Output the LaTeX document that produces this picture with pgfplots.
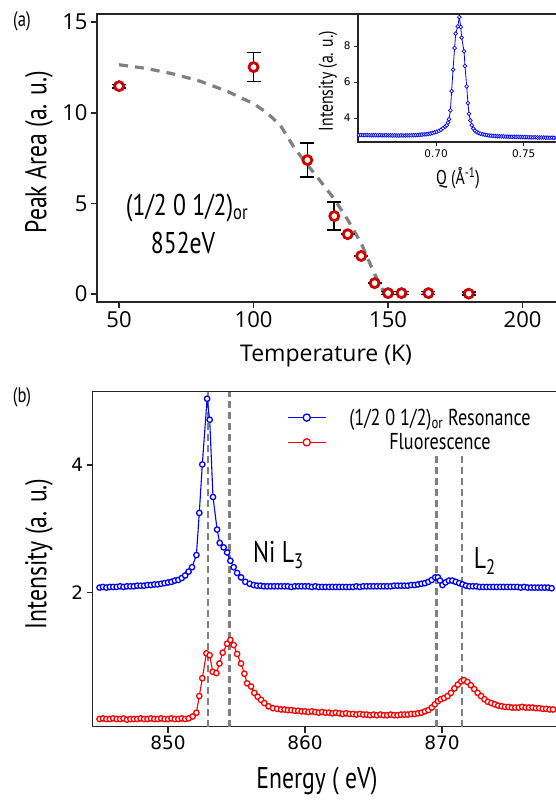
\documentclass[border=0pt]{standalone}
\usepackage{fontspec}
\setmainfont{PT Sans}
\newfontfamily\cf{PT Sans}[FakeStretch=0.79]
\newfontfamily\dv{DejaVu Sans}
\newfontfamily\os{Open Sans}
\usepackage{pgfplots}
\pgfplotsset{compat=1.18}
\definecolor{darkred}{HTML}{CC0000}
\definecolor{fitgray}{HTML}{808080}

\pgfplotsset{
  panel/.style={
    scale only axis,
    axis line style={line width=1.5pt, black!85},
    tick align=outside, tick pos=left,
    major tick length=6pt,
    tick style={line width=1.5pt, black!85},
    /pgf/number format/assume math mode=true,
    clip=false,
  },
}

\begin{document}
\begin{tikzpicture}[x=1pt,y=1pt]
\useasboundingbox (0,0) rectangle (555,800);

% ---------- panel (a) ----------
\begin{axis}[panel,
  at={(97pt,498pt)}, anchor=south west,
  width=460pt, height=288pt,
  xmin=41.8, xmax=212.8, ymin=-0.44, ymax=15.45,
  xtick={50,100,150,200}, ytick={0,5,10,15},
  ticklabel style={font=\os\fontsize{22}{22}\selectfont},
  xlabel={Temperature (K)}, ylabel={Peak Area (a. u.)},
  xlabel style={font=\os\fontsize{23}{23}\selectfont, at={(axis description cs:0.498,0)}, anchor=center, yshift=-54pt},
  ylabel style={font=\cf\fontsize{30}{30}\selectfont, at={(axis description cs:-0.126,0.52)}, anchor=center},
]
% order parameter fit
\addplot[fitgray, line width=3.2pt, dash pattern=on 9pt off 7pt] coordinates {
  (50,12.65) (60,12.45) (70,12.15) (80,11.75) (90,11.2) (100,10.5) (105,10.0)
  (110,9.3) (115,8.1) (120,7.13) (125,6.2) (130,5.24) (135,4.1) (140,2.8)
  (145,1.1) (148.5,0.1)
};
\addplot[only marks, mark=*, mark size=4.5pt,
  mark options={draw=darkred, fill=white, line width=2.8pt},
  error bars/.cd, y dir=both, y explicit,
  error bar style={line width=1.6pt, black},
  error mark options={rotate=90, mark size=7pt, line width=1.6pt, black}]
  table[x=T, y=A, y error=E] {
T   A     E
50  11.47 0.10
100 12.52 0.80
120 7.39  0.95
130 4.30  0.77
135 3.30  0.00
140 2.10  0.00
145 0.60  0.00
150 0.05  0.08
155 0.05  0.08
165 0.05  0.08
180 0.02  0.08
};
\node[font=\cf\fontsize{30}{30}\selectfont] at (axis cs:75.3,4.74) {(1/2 0 1/2)\textsubscript{or}};
\node[font=\cf\fontsize{30}{30}\selectfont] at (axis cs:73.8,2.81) {852eV};
\end{axis}

% ---------- inset ----------
\begin{axis}[panel,
  at={(358pt,658pt)}, anchor=south west,
  width=199pt, height=128pt,
  xmin=0.6555, xmax=0.769, ymin=2.67, ymax=9.78,
  clip=true,
  axis background/.style={fill=white},
  axis line style={line width=1.2pt, black!85},
  tick style={line width=1pt, black!85},
  major tick length=4pt,
  xtick={0.70,0.75}, ytick={4,6,8},
  xticklabel style={/pgf/number format/.cd, fixed, fixed zerofill, precision=2},
  ticklabel style={font=\dv\fontsize{10.5}{10.5}\selectfont},
  xlabel={Q (Å\textsuperscript{-1})}, ylabel={Intensity (a. u.)},
  label style={font=\cf\fontsize{20}{20}\selectfont},
  xlabel style={at={(axis description cs:0.5025,0)}, anchor=center, yshift=-36pt},
  ylabel style={at={(axis description cs:-0.151,0.477)}, anchor=center},
]
\addplot[blue, line width=0.8pt, mark=*, mark size=1.9pt,
  mark options={draw=blue, fill=white, line width=0.7pt}] coordinates {
  (0.6560,3.05) (0.6572,3.06) (0.6584,3.05) (0.6596,3.05) (0.6608,3.06) (0.6620,3.05)
  (0.6632,3.04) (0.6644,3.05) (0.6656,3.05) (0.6668,3.04) (0.6680,3.05) (0.6692,3.04)
  (0.6704,3.04) (0.6716,3.05) (0.6728,3.04) (0.6740,3.04) (0.6752,3.03) (0.6764,3.04)
  (0.6776,3.03) (0.6788,3.03) (0.6800,3.04) (0.6812,3.03) (0.6824,3.03) (0.6836,3.04)
  (0.6848,3.04) (0.6860,3.04) (0.6872,3.05) (0.6884,3.05) (0.6896,3.06) (0.6908,3.07)
  (0.6920,3.08) (0.6932,3.09) (0.6944,3.10) (0.6956,3.12) (0.6968,3.14) (0.6980,3.17)
  (0.6992,3.20) (0.7004,3.24) (0.7016,3.29) (0.7028,3.35) (0.7040,3.43) (0.7052,3.52)
  (0.7061,3.60) (0.7068,3.75) (0.7074,3.93) (0.7082,4.43) (0.7089,5.50) (0.7097,6.69)
  (0.7106,7.89) (0.7112,8.69) (0.7124,9.09) (0.7133,9.61) (0.7141,9.06) (0.7146,8.47)
  (0.7160,7.71) (0.7165,6.89) (0.7175,5.76) (0.7182,4.83) (0.7188,4.24) (0.7196,3.87)
  (0.7204,3.60) (0.7213,3.41) (0.7222,3.30) (0.7232,3.22) (0.7242,3.17) (0.7254,3.13)
  (0.7266,3.10) (0.7278,3.07) (0.7290,3.05) (0.7302,3.03) (0.7314,3.02) (0.7326,3.01)
  (0.7338,3.00) (0.7350,2.99) (0.7362,2.99) (0.7374,2.98) (0.7386,2.98) (0.7398,2.97)
  (0.7410,2.97) (0.7422,2.96) (0.7434,2.96) (0.7446,2.96) (0.7458,2.95) (0.7470,2.95)
  (0.7482,2.95) (0.7494,2.94) (0.7506,2.94) (0.7518,2.94) (0.7530,2.93) (0.7542,2.93)
  (0.7554,2.93) (0.7566,2.93) (0.7578,2.92) (0.7590,2.92) (0.7602,2.92) (0.7614,2.92)
  (0.7626,2.91) (0.7638,2.91) (0.7650,2.91) (0.7662,2.91) (0.7674,2.90) (0.7686,2.90)
};
\end{axis}

% ---------- panel (b) ----------
\begin{axis}[panel,
  at={(92.7pt,73.3pt)}, anchor=south west,
  width=464.3pt, height=335pt,
  xmin=844.5, xmax=878.39, ymin=-0.1, ymax=5.15,
  xtick={850,860,870}, ytick={2,4},
  ticklabel style={font=\dv\fontsize{18.5}{18.5}\selectfont},
  xlabel={Energy ( eV)}, ylabel={Intensity (a. u.)},
  label style={font=\cf\fontsize{30}{30}\selectfont},
  xlabel style={at={(axis description cs:0.483,0)}, anchor=center, yshift=-54pt},
  ylabel style={at={(axis description cs:-0.1157,0.516)}, anchor=center},
  legend style={draw=none, fill=none, inner sep=0pt,
    at={(axis description cs:0.4185,0.95)}, anchor=north west,
    font=\cf\fontsize{23}{23}\selectfont, cells={anchor=center},
    nodes={inner sep=0pt}, column sep=23pt, row sep=7pt},
  legend image code/.code={\draw[mark repeat=2, mark phase=2, #1, mark size=3.6pt] plot coordinates {(0pt,0pt) (19pt,0pt) (38pt,0pt)};},
]
\addplot[fitgray, line width=2.5pt, dash pattern=on 7pt off 4pt, forget plot] coordinates {(852.92,-0.1) (852.92,5.15)};
\addplot[fitgray, line width=2.5pt, dash pattern=on 7pt off 4pt, forget plot] coordinates {(854.47,-0.1) (854.47,5.15)};
\addplot[fitgray, line width=2.5pt, dash pattern=on 7pt off 4pt, forget plot] coordinates {(869.59,-0.1) (869.59,4.16)};
\addplot[fitgray, line width=2.5pt, dash pattern=on 7pt off 4pt, forget plot] coordinates {(871.46,-0.1) (871.46,4.16)};

\addplot[blue, line width=1.1pt, mark=*, mark size=2.7pt,
  mark options={draw=blue, fill=white, line width=1.3pt}] coordinates {
  (845.00,2.08) (845.25,2.09) (845.50,2.08) (845.75,2.09) (846.00,2.09) (846.25,2.09)
  (846.50,2.10) (846.75,2.09) (847.00,2.10) (847.25,2.10) (847.50,2.10) (847.75,2.11)
  (848.00,2.11) (848.25,2.11) (848.50,2.12) (848.75,2.12) (849.00,2.13) (849.25,2.13)
  (849.50,2.14) (849.75,2.15) (850.00,2.16) (850.25,2.17) (850.50,2.19) (850.75,2.20)
  (851.00,2.23) (851.25,2.27) (851.50,2.33) (851.75,2.40) (852.07,2.59) (852.28,3.25)
  (852.50,4.01) (852.85,5.04) (853.04,4.71) (853.28,3.50) (853.58,2.99) (853.77,2.78)
  (854.06,2.71) (854.31,2.63) (854.55,2.50) (854.79,2.40) (855.04,2.31) (855.33,2.24)
  (855.64,2.17) (855.96,2.14) (856.25,2.12) (856.50,2.11) (856.75,2.11) (857.00,2.10)
  (857.25,2.10) (857.50,2.10) (857.75,2.10) (858.00,2.10) (858.25,2.10) (858.50,2.10)
  (858.75,2.10) (859.00,2.09) (859.25,2.10) (859.50,2.10) (859.75,2.10) (860.00,2.10)
  (860.25,2.10) (860.50,2.09) (860.75,2.10) (861.00,2.09) (861.25,2.09) (861.50,2.09)
  (861.75,2.09) (862.00,2.09) (862.25,2.09) (862.50,2.09) (862.75,2.09) (863.00,2.09)
  (863.25,2.09) (863.50,2.09) (863.75,2.10) (864.00,2.09) (864.25,2.10) (864.50,2.10)
  (864.75,2.10) (865.00,2.10) (865.25,2.10) (865.50,2.10) (865.75,2.10) (866.00,2.10)
  (866.25,2.10) (866.50,2.11) (866.75,2.11) (867.00,2.11) (867.25,2.11) (867.50,2.11)
  (867.75,2.12) (868.00,2.12) (868.25,2.13) (868.50,2.14) (868.75,2.15) (869.00,2.17)
  (869.25,2.20) (869.50,2.24) (869.70,2.24) (869.85,2.19) (870.03,2.12) (870.25,2.16)
  (870.50,2.19) (870.75,2.19) (871.00,2.17) (871.25,2.15) (871.50,2.13) (871.75,2.11)
  (872.00,2.10) (872.25,2.10) (872.50,2.10) (872.75,2.09) (873.00,2.09) (873.25,2.09)
  (873.50,2.09) (873.75,2.09) (874.00,2.09) (874.25,2.09) (874.50,2.09) (874.75,2.09)
  (875.00,2.09) (875.25,2.09) (875.50,2.09) (875.75,2.08) (876.00,2.09) (876.25,2.08)
  (876.50,2.08) (876.75,2.08) (877.00,2.08) (877.25,2.08) (877.50,2.08) (877.75,2.08)
  (878.00,2.07)
};
\addlegendentry{(1/2 0 1/2)\textsubscript{or} Resonance}

\addplot[red, line width=1.1pt, mark=*, mark size=2.7pt,
  mark options={draw=red, fill=white, line width=1.3pt}] coordinates {
  (845.00,0.02) (845.25,0.03) (845.50,0.02) (845.75,0.02) (846.00,0.03) (846.25,0.02)
  (846.50,0.02) (846.75,0.03) (847.00,0.01) (847.25,0.02) (847.50,0.02) (847.75,0.02)
  (848.00,0.03) (848.25,0.02) (848.50,0.02) (848.75,0.03) (849.00,0.02) (849.25,0.02)
  (849.50,0.03) (849.75,0.02) (850.00,0.02) (850.25,0.03) (850.50,0.02) (850.75,0.02)
  (851.00,0.03) (851.25,0.02) (851.50,0.03) (851.80,0.06) (852.07,0.12) (852.28,0.38)
  (852.50,0.66) (852.80,1.05) (853.04,1.02) (853.26,0.76) (853.53,0.74) (853.75,0.89)
  (853.99,1.06) (854.31,1.20) (854.55,1.26) (854.79,1.18) (855.04,1.04) (855.33,0.89)
  (855.57,0.73) (855.77,0.58) (856.06,0.53) (856.30,0.43) (856.54,0.37) (856.79,0.32)
  (857.03,0.27) (857.34,0.22) (857.66,0.19) (857.96,0.18) (858.25,0.17) (858.50,0.17)
  (858.75,0.16) (859.00,0.16) (859.25,0.15) (859.50,0.15) (859.75,0.14) (860.00,0.14)
  (860.25,0.13) (860.50,0.14) (860.75,0.13) (861.00,0.12) (861.25,0.13) (861.50,0.12)
  (861.75,0.12) (862.00,0.11) (862.25,0.12) (862.50,0.11) (862.75,0.10) (863.00,0.11)
  (863.25,0.10) (863.50,0.10) (863.75,0.09) (864.00,0.10) (864.25,0.09) (864.50,0.09)
  (864.75,0.08) (865.00,0.09) (865.25,0.08) (865.50,0.09) (865.75,0.08) (866.00,0.08)
  (866.25,0.09) (866.50,0.08) (866.75,0.08) (867.00,0.09) (867.25,0.09) (867.50,0.09)
  (867.75,0.10) (868.00,0.10) (868.25,0.11) (868.50,0.12) (868.75,0.14) (869.00,0.16)
  (869.25,0.20) (869.47,0.25) (869.70,0.30) (869.90,0.33) (870.15,0.35) (870.40,0.38)
  (870.65,0.43) (870.90,0.50) (871.15,0.56) (871.40,0.61) (871.60,0.63) (871.85,0.60)
  (872.10,0.55) (872.35,0.49) (872.60,0.43) (872.85,0.38) (873.10,0.33) (873.35,0.29)
  (873.60,0.27) (873.85,0.25) (874.10,0.23) (874.35,0.22) (874.60,0.21) (874.85,0.21)
  (875.10,0.20) (875.35,0.20) (875.60,0.20) (875.85,0.21) (876.10,0.20) (876.35,0.20)
  (876.60,0.20) (876.85,0.19) (877.10,0.19) (877.35,0.18) (877.60,0.18) (877.85,0.17)
  (878.10,0.17)
};
\addlegendentry{Fluorescence}

\node[font=\cf\fontsize{30}{30}\selectfont] at (axis cs:858.05,2.59) {Ni L\textsubscript{3}};
\node[font=\cf\fontsize{30}{30}\selectfont] at (axis cs:873.12,2.5) {L\textsubscript{2}};
\end{axis}

\node[font=\cf\fontsize{21}{21}\selectfont] at (22,779) {(a)};
\node[font=\cf\fontsize{21}{21}\selectfont] at (22,403) {(b)};
\end{tikzpicture}
\end{document}
